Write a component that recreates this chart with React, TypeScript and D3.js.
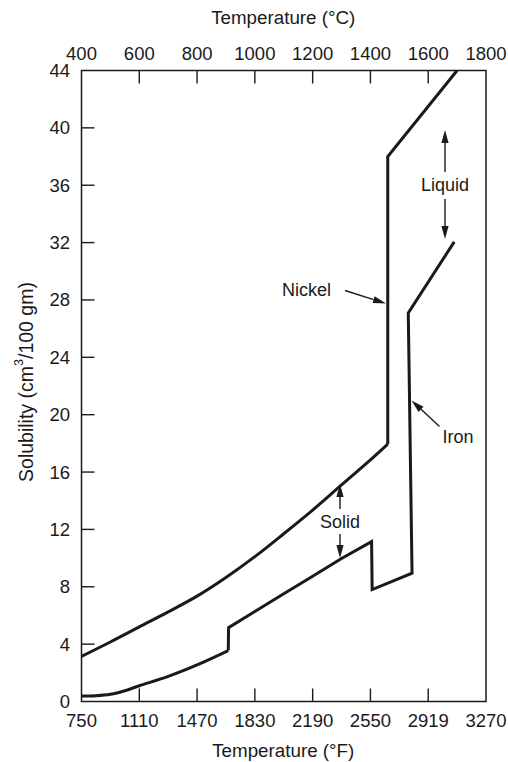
import React from "react";
import * as d3 from "d3";

// Temperature in °C, solubility in cm3/100 gm
const nickelSolid: [number, number][] = [
  [400, 3.15], [500, 4.15], [600, 5.2], [700, 6.25], [800, 7.35], [900, 8.65],
  [1000, 10.1], [1100, 11.7], [1200, 13.35], [1300, 15.1], [1400, 16.85], [1460, 17.95],
];
const nickelLiquid: [number, number][] = [
  [1460, 17.95], [1460, 38.0], [1700, 44.0],
];
const ironAlpha: [number, number][] = [
  [400, 0.38], [450, 0.4], [500, 0.5], [550, 0.75], [600, 1.1], [700, 1.75], [800, 2.55], [908, 3.55],
];
const ironRest: [number, number][] = [
  [908, 3.55], [909, 5.15], [1000, 6.28], [1100, 7.51], [1200, 8.74], [1300, 9.97], [1404, 11.15],
  [1406, 7.8], [1544, 8.95], [1531, 27.1], [1690, 32.05],
];

const celsiusTicks = [400, 600, 800, 1000, 1200, 1400, 1600, 1800];
const fahrenheitLabels = ["750", "1110", "1470", "1830", "2190", "2550", "2919", "3270"];
const yTicks = [0, 4, 8, 12, 16, 20, 24, 28, 32, 36, 40, 44];

const W = 508, H = 762;
const left = 81.5, right = 486, top = 70.5, bottom = 701.5;
const FONT = "'Liberation Sans', Arial, Helvetica, sans-serif";
const INK = "#1a1a1a";

export default function App() {
  const x = d3.scaleLinear().domain([400, 1800]).range([left, right]);
  const y = d3.scaleLinear().domain([0, 44]).range([bottom, top]);
  const smooth = d3.line<[number, number]>().x(d => x(d[0])).y(d => y(d[1])).curve(d3.curveCatmullRom.alpha(0.5));
  const straight = d3.line<[number, number]>().x(d => x(d[0])).y(d => y(d[1]));
  const tick = 13;
  const TF = 18.5;

  const arrow = (x1: number, y1: number, x2: number, y2: number, key: string) => {
    const ang = Math.atan2(y2 - y1, x2 - x1);
    const L = 13, Wd = 3.6;
    const bx = x2 - L * Math.cos(ang), by = y2 - L * Math.sin(ang);
    const px = -Math.sin(ang) * Wd, py = Math.cos(ang) * Wd;
    return (
      <g key={key}>
        <line x1={x1} y1={y1} x2={bx} y2={by} stroke={INK} strokeWidth={1.4} />
        <path d={`M${x2},${y2}L${bx + px},${by + py}L${bx - px},${by - py}Z`} fill={INK} />
      </g>
    );
  };

  return (
    <svg width={W} height={H} style={{ position: "absolute", left: 0, top: 0, background: "#fff" }} fontFamily={FONT}>
      <rect x={0} y={0} width={W} height={H} fill="#fff" />
      {/* frame */}
      <rect x={left} y={top} width={right - left} height={bottom - top} fill="none" stroke={INK} strokeWidth={1.5} />
      {/* ticks */}
      {celsiusTicks.map((c, i) => (
        <g key={"t" + c}>
          {i > 0 && i < celsiusTicks.length - 1 && (
            <>
              <line x1={x(c)} x2={x(c)} y1={top} y2={top + tick} stroke={INK} strokeWidth={1.4} />
              <line x1={x(c)} x2={x(c)} y1={bottom} y2={bottom - tick} stroke={INK} strokeWidth={1.4} />
            </>
          )}
          <text x={x(c)} y={53} textAnchor="middle" dominantBaseline="central" fontSize={TF} fill={INK}>{c}</text>
          <text x={x(c)} y={720} textAnchor="middle" dominantBaseline="central" fontSize={TF} fill={INK}>{fahrenheitLabels[i]}</text>
        </g>
      ))}
      {yTicks.map((v, i) => (
        <g key={"y" + v}>
          {i > 0 && i < yTicks.length - 1 && (
            <line x1={left} x2={left + tick} y1={y(v)} y2={y(v)} stroke={INK} strokeWidth={1.4} />
          )}
          <text x={70} y={y(v)} textAnchor="end" dominantBaseline="central" fontSize={TF} fill={INK}>{v}</text>
        </g>
      ))}
      {/* axis titles */}
      <text x={(left + right) / 2 - 0.5} y={17} textAnchor="middle" dominantBaseline="central" fontSize={18.8} fill={INK}>Temperature (°C)</text>
      <text x={(left + right) / 2 - 0.5} y={750} textAnchor="middle" dominantBaseline="central" fontSize={18.8} fill={INK}>Temperature (°F)</text>
      <text transform={`translate(26,382) rotate(-90)`} textAnchor="middle" dominantBaseline="central" fontSize={19.5} fill={INK}>
        Solubility (cm<tspan fontSize={12.5} dy={-7}>3</tspan><tspan dy={7}>/100 gm)</tspan>
      </text>
      {/* curves */}
      <path d={smooth(nickelSolid) || ""} fill="none" stroke={INK} strokeWidth={3} strokeLinejoin="miter" />
      <path d={straight(nickelLiquid) || ""} fill="none" stroke={INK} strokeWidth={3} strokeLinejoin="miter" />
      <path d={smooth(ironAlpha) || ""} fill="none" stroke={INK} strokeWidth={3} />
      <path d={straight(ironRest) || ""} fill="none" stroke={INK} strokeWidth={3} strokeLinejoin="miter" />
      {/* annotations */}
      <text x={445} y={184.5} textAnchor="middle" dominantBaseline="central" fontSize={18} fill={INK}>Liquid</text>
      {arrow(445, 172, 445, 130, "la")}
      {arrow(445, 199, 445, 239, "lb")}
      <text x={340} y={521.5} textAnchor="middle" dominantBaseline="central" fontSize={18} fill={INK}>Solid</text>
      {arrow(340, 509, 340, 484, "sa")}
      {arrow(340, 534, 340, 558, "sb")}
      <text x={282} y={290} textAnchor="start" dominantBaseline="central" fontSize={18} fill={INK}>Nickel</text>
      {arrow(345, 290.5, 386, 303.5, "na")}
      <text x={442.5} y={437} textAnchor="start" dominantBaseline="central" fontSize={18} fill={INK}>Iron</text>
      {arrow(439.5, 426.5, 411.5, 400.5, "ia")}
    </svg>
  );
}
